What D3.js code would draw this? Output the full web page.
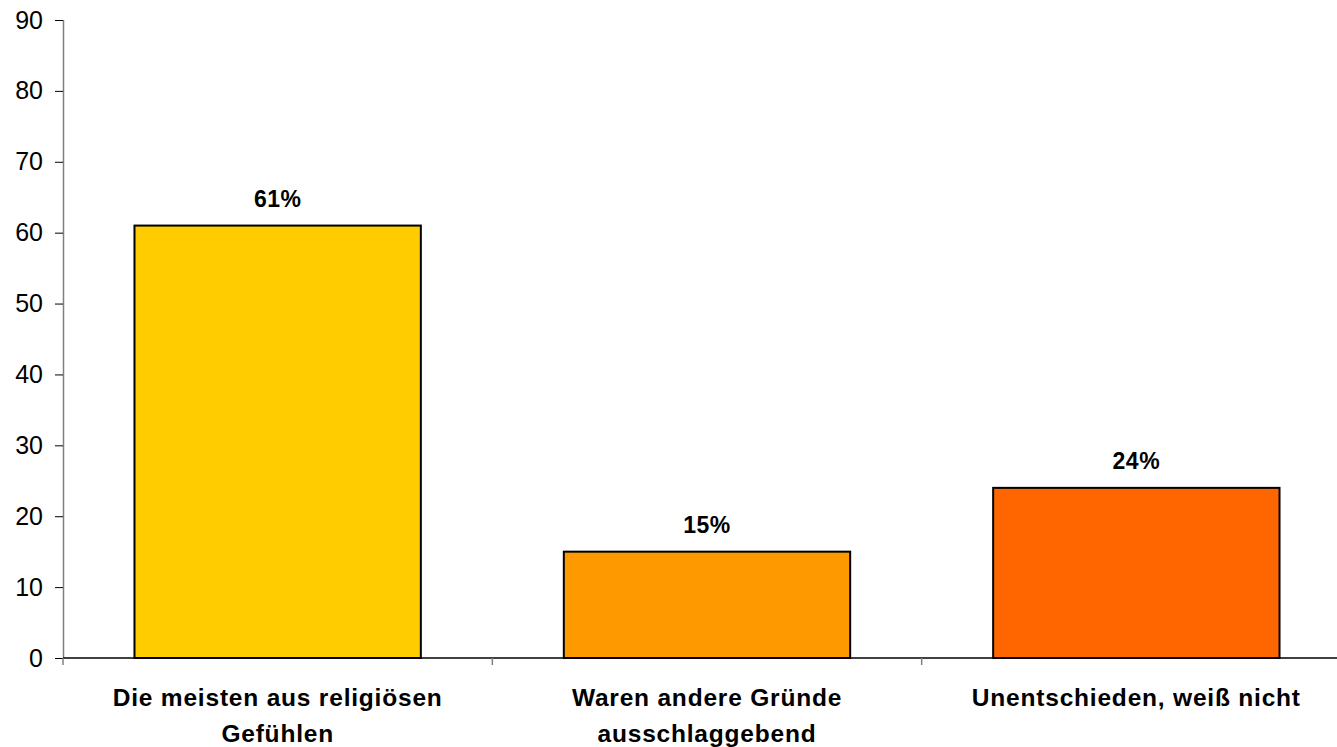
<!DOCTYPE html>
<html><head><meta charset="utf-8">
<script src="https://cdn.jsdelivr.net/npm/d3@7"></script>
<style>body{margin:0;background:#fff}svg{display:block;font-family:"Liberation Sans",Arial,sans-serif}</style>
</head><body>
<script>
const categories = [["Die meisten aus religiösen","Gefühlen"],["Waren andere Gründe","ausschlaggebend"],["Unentschieden, weiß nicht"]];
const values = [61, 15, 24];
const valueLabels = ["61%", "15%", "24%"];
const colors = ["#FFCC00", "#FF9900", "#FF6600"];
const yTicks = [0,10,20,30,40,50,60,70,80,90];

const W = 1337, H = 747;
const svg = d3.select("body").append("svg").attr("width", W).attr("height", H);
const x0 = 63, x1 = 1351, yTop = 20, yBot = 658;
const x = d3.scaleBand().domain(d3.range(values.length)).range([x0, x1]).paddingInner(0).paddingOuter(0);
const y = d3.scaleLinear().domain([0, 90]).range([yBot, yTop]);
const bw = x.bandwidth() * 0.667;

// bars
svg.selectAll("rect.bar").data(values).enter().append("rect")
  .attr("x", (d,i) => x(i) + (x.bandwidth()-bw)/2)
  .attr("y", d => y(d))
  .attr("width", bw)
  .attr("height", d => y(0) - y(d))
  .attr("fill", (d,i) => colors[i])
  .attr("stroke", "#000").attr("stroke-width", 2);

// y axis
const ya = svg.append("g").attr("transform", `translate(${x0},0)`)
  .call(d3.axisLeft(y).tickValues(yTicks).tickSize(8).tickPadding(12).tickFormat(d3.format("d")));
ya.select(".domain").attr("stroke", "#808080").attr("stroke-width", 1.5).attr("d", `M0.5,${yTop}V${yBot}`);
ya.selectAll(".tick line").attr("stroke", "#000");
ya.selectAll(".tick text").attr("font-size", 25).attr("fill", "#000").attr("font-family", '"Liberation Sans",Arial,sans-serif');

// x axis
const xa = svg.append("g").attr("transform", `translate(0,${yBot})`);
xa.append("line").attr("x1", x0).attr("x2", x1).attr("y1", 0).attr("y2", 0).attr("stroke", "#000").attr("stroke-width", 1.5);
xa.selectAll("line.t").data(d3.range(values.length + 1)).enter().append("line")
  .attr("x1", i => i < values.length ? x(i) : x1).attr("x2", i => i < values.length ? x(i) : x1)
  .attr("y1", 0).attr("y2", 7).attr("stroke", "#808080").attr("stroke-width", 1.5);

// value labels
svg.selectAll("text.val").data(values).enter().append("text")
  .attr("x", (d,i) => x(i) + x.bandwidth()/2)
  .attr("y", d => y(d) - 19)
  .attr("text-anchor", "middle").attr("font-size", 23).attr("font-weight", "bold")
  .attr("letter-spacing", 0.5)
  .text((d,i) => valueLabels[i]);

// category labels
categories.forEach((lines, i) => {
  const t = svg.append("text").attr("text-anchor", "middle").attr("font-size", 24.5).attr("font-weight", "bold")
    .attr("letter-spacing", 0.8);
  lines.forEach((l, j) => {
    t.append("tspan").attr("x", x(i) + x.bandwidth()/2).attr("y", 705.5 + j*36).text(l);
  });
});
</script>
</body></html>
